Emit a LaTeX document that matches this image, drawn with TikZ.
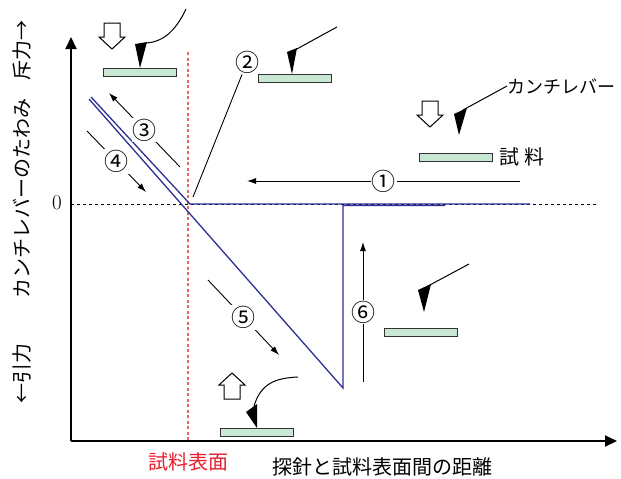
\documentclass[tikz,border=0pt]{standalone}
\usepackage{fontspec}
\newfontfamily\jpfont{Noto Sans CJK JP}
\usetikzlibrary{arrows.meta,positioning}
\definecolor{curveblue}{RGB}{46,49,146}
\definecolor{surfred}{RGB}{236,100,100}
\definecolor{labelred}{RGB}{230,30,45}
\definecolor{samplegreen}{RGB}{200,232,212}
%% hollow push/pull arrow: centre, rotation
\newcommand{\PushArrow}[2]{%
  \draw[hollow, shift={#1}, rotate=#2]
    (-8,-13) -- (8,-13) -- (8,1) -- (13,1) -- (0,13) -- (-13,1) -- (-8,1) -- cycle;}
%% circled step number
\newcommand{\StepNo}[1]{{\jpfont\fontsize{24}{24}\selectfont #1}}

\begin{document}
\begin{tikzpicture}[x=1pt, y=-1pt,
             every node/.style={font=\jpfont\fontsize{20}{24}\selectfont, inner sep=0pt},
             axis/.style={line width=2pt, -{Triangle[length=12pt,width=11pt]}},
             zero/.style={line width=0.8pt, dash pattern=on 3pt off 3pt},
             surface/.style={line width=1.4pt, surfred, dash pattern=on 3pt off 2.5pt},
             curve/.style={line width=1.3pt, curveblue},
             move/.style={line width=0.9pt, -{Latex[length=9pt,width=6pt]}},
             circnum/.style={fill=white, inner sep=1pt},
             sample/.style={draw=black!80, fill=samplegreen, line width=1pt,
                            minimum width=73pt, minimum height=8pt},
             lever/.style={line width=1pt},
             hollow/.style={draw, line width=1pt, fill=white}]
\path[use as bounding box, fill=white] (0,0) rectangle (621,479);

%% axes and their labels
\coordinate (O) at (71,441);
\draw[zero] (71,204) -- (597,204);
\draw[surface] (188,52) -- (188,440);
\draw[axis] (O) -- (617,441);
\draw[axis] (O) -- (71,37);
\node (zlab) at (57,203) {\rmfamily\fontsize{21}{24}\selectfont 0};
\node[rotate=90] (ylab) at (22,198) {カンチレバーのたわみ};
\node[rotate=90] (yrep) at (22,50) {斥力→};
\node[rotate=90] (yatt) at (22,373) {←引力};
\node[text=labelred] (surflab) at (188,462) {試料表面};
\node (xlab) at (382,467) {探針と試料表面間の距離};

%% force curve: approach and retract
\coordinate (A0) at (530,204);
\coordinate (A1) at (190,204);
\coordinate (A2) at (91,97);
\coordinate (R0) at (89,99);
\coordinate (R1) at (343,388);
\coordinate (R2) at (343,205.5);
\coordinate (R3) at (445,205.5);
\draw[curve] (A0) -- (A1) -- (A2);
\draw[curve] (R0) -- (R1) -- (R2) -- (R3);

%% steps 1-6
\draw[move] (520,181) -- node[circnum] (n1) {\StepNo{①}} (247,181);
\node[circnum] (n2) at (247,62) {\StepNo{②}};
\draw[line width=0.9pt] (193,197) -- (n2);
\draw[move] (180,167) -- node[circnum] (n3) {\StepNo{③}} (109,93);
\draw[move] (87,131) -- node[circnum] (n4) {\StepNo{④}} (146,192);
\draw[move] (208,280) -- node[circnum] (n5) {\StepNo{⑤}} (279,355);
\draw[move] (363,382) -- node[circnum] (n6) {\StepNo{⑥}} (363,242);

%% samples
\node[sample] (s1) at (139.5,72) {};
\node[sample] (s2) at (295,78) {};
\node[sample] (s3) at (456,157) {};
\node[sample] (s4) at (420.5,332.5) {};
\node[sample] (s5) at (257,432) {};
\node[right=6pt of s3] (slab) {試\hspace{0.25em}料};

%% probe tips and cantilevers
\fill (135,44) -- (147,42) -- (140,68) -- cycle;
\draw[lever] (146,43) .. controls (165,42) and (177,28) .. (186,9);
\fill (287,52) -- (297,48) -- (292,74) -- cycle;
\draw[lever] (295,50) -- (337,27);
\node[anchor=west, font=\jpfont\fontsize{18}{20}\selectfont] (clab) at (507,86) {カンチレバー};
\fill (454,114) -- (467,108) -- (459,135) -- cycle;
\draw[lever] (463,110) -- (clab.west);
\fill (418,290) -- (431,284) -- (424,312) -- cycle;
\draw[lever] (428,286) -- (469,264);
\fill (246,412) -- (257,404) -- (257,428) -- cycle;
\draw[lever] (254,406) .. controls (261,383) and (276,378) .. (298,377);

%% push / pull arrows
\PushArrow{(112,36)}{0}
\PushArrow{(430,114)}{0}
\PushArrow{(232,386)}{180}
\end{tikzpicture}
\end{document}
